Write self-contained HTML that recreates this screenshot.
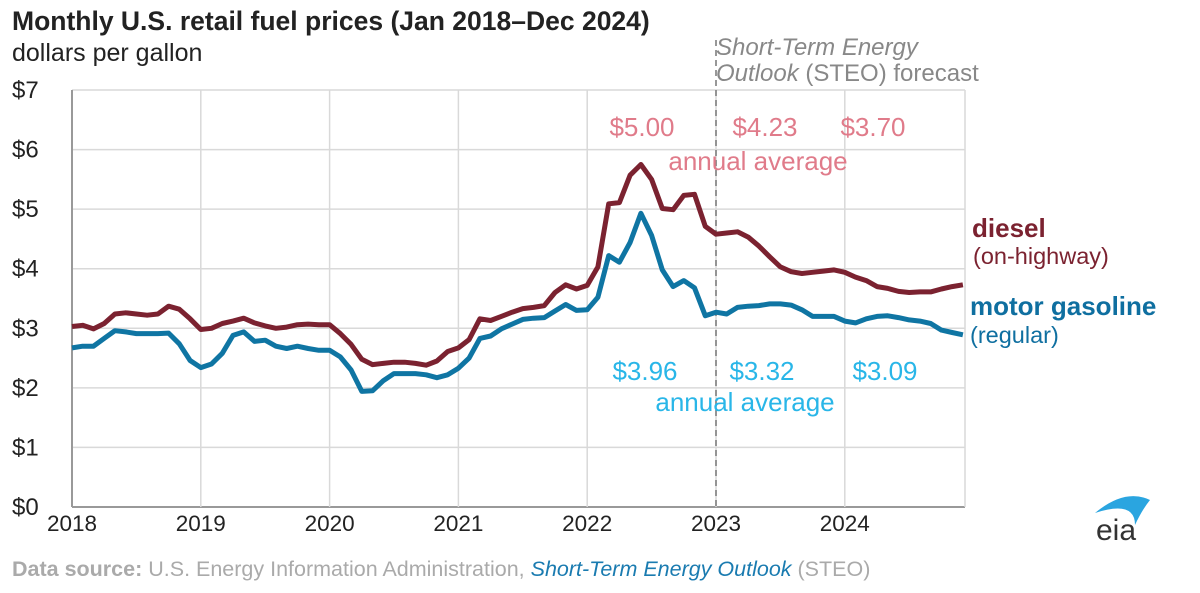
<!DOCTYPE html>
<html><head><meta charset="utf-8"><style>
html,body{margin:0;padding:0;background:#fff;}
svg{display:block;font-family:"Liberation Sans",Arial,sans-serif;}
</style></head><body>
<svg id="chart" width="1200" height="593" viewBox="0 0 1200 593">
<text x="12" y="30" font-size="26.5" font-weight="bold" fill="#222">Monthly U.S. retail fuel prices (Jan 2018–Dec 2024)</text>
<text x="12" y="61" font-size="25" fill="#222">dollars per gallon</text>
<g id="grid"></g>
<g id="axes"></g>
<line x1="716" y1="40" x2="716" y2="507" stroke="#777" stroke-width="1.5" stroke-dasharray="6,4"/>
<text x="716" y="55" font-size="24" font-style="italic" fill="#888">Short-Term Energy</text>
<text x="716" y="81" font-size="24" fill="#888"><tspan font-style="italic">Outlook</tspan> (STEO) forecast</text>
<g id="series"></g>
<g fill="#e07b8a" font-size="26">
<text x="642" y="136" text-anchor="middle">$5.00</text>
<text x="765" y="136" text-anchor="middle">$4.23</text>
<text x="873" y="136" text-anchor="middle">$3.70</text>
<text x="758" y="170" text-anchor="middle">annual average</text>
</g>
<g fill="#29b6e8" font-size="26">
<text x="645" y="380" text-anchor="middle">$3.96</text>
<text x="762" y="380" text-anchor="middle">$3.32</text>
<text x="885" y="380" text-anchor="middle">$3.09</text>
<text x="745" y="411" text-anchor="middle">annual average</text>
</g>
<text x="972" y="237" font-size="26" font-weight="bold" fill="#7b2230">diesel</text>
<text x="973" y="264" font-size="23.5" fill="#7b2230">(on-highway)</text>
<text x="970" y="315" font-size="26" font-weight="bold" fill="#0f6fa0">motor gasoline</text>
<text x="970" y="343" font-size="23.5" fill="#0f6fa0">(regular)</text>
<text x="12" y="576" font-size="21.5" fill="#aaa"><tspan font-weight="bold">Data source:</tspan> U.S. Energy Information Administration, <tspan font-style="italic" fill="#1a7bb0">Short-Term Energy Outlook</tspan> (STEO)</text>
<g>
<path d="M1095 513 Q1125 488 1150 500 Q1142 510 1135 525 Q1135 500 1095 513Z" fill="#2aa5e0"/>
<text x="1096" y="540" font-size="30" fill="#333">eia</text>
</g>
</svg>
<script>
const years = ["2018","2019","2020","2021","2022","2023","2024"];
const yTicks = [0,1,2,3,4,5,6,7];
const diesel = [3.03,3.05,2.99,3.08,3.24,3.26,3.24,3.22,3.24,3.37,3.32,3.16,
2.98,3.00,3.08,3.12,3.17,3.09,3.04,3.00,3.02,3.06,3.07,3.06,
3.06,2.91,2.73,2.48,2.39,2.41,2.43,2.43,2.41,2.38,2.45,2.61,
2.67,2.81,3.16,3.13,3.20,3.27,3.33,3.35,3.38,3.60,3.73,3.66,
3.72,4.03,5.09,5.11,5.57,5.75,5.50,5.01,4.99,5.23,5.25,4.71,
4.58,4.60,4.62,4.53,4.38,4.20,4.03,3.95,3.92,3.94,3.96,3.98,
3.94,3.86,3.80,3.70,3.67,3.62,3.60,3.61,3.61,3.66,3.70,3.73];
const gasoline = [2.67,2.70,2.70,2.83,2.96,2.94,2.91,2.91,2.91,2.92,2.74,2.46,
2.34,2.40,2.58,2.88,2.94,2.78,2.80,2.70,2.66,2.70,2.66,2.63,
2.63,2.52,2.30,1.94,1.95,2.12,2.24,2.24,2.24,2.22,2.17,2.22,
2.33,2.50,2.83,2.87,2.99,3.07,3.15,3.17,3.18,3.29,3.40,3.30,
3.31,3.52,4.22,4.11,4.44,4.93,4.56,3.98,3.70,3.80,3.68,3.21,
3.27,3.24,3.35,3.37,3.38,3.41,3.41,3.39,3.31,3.20,3.20,3.20,
3.12,3.09,3.16,3.20,3.21,3.18,3.14,3.12,3.08,2.97,2.93,2.89];

const NS="http://www.w3.org/2000/svg";
const X0=72, X1=965, Y0=507, Y1=90;
const monthW=128.8/12;
const xm=i=>X0+i*monthW;
const yv=v=>Y0-(v/7)*(Y0-Y1);
function mk(tag,attrs,parent){const e=document.createElementNS(NS,tag);for(const k in attrs)e.setAttribute(k,attrs[k]);parent.appendChild(e);return e;}
const grid=document.getElementById('grid'), axes=document.getElementById('axes'), series=document.getElementById('series');
yTicks.forEach(t=>{
  const l=mk('line',{x1:X0,x2:X1,y1:yv(t),y2:yv(t),stroke:t===0?'#999':'#d9d9d9','stroke-width':t===0?2:1.5},grid);
  
  
  const tx=mk('text',{x:12,y:yv(t)+8,'font-size':24,fill:'#222'},axes);
  tx.textContent='$'+t;
  
  
});
years.forEach((yr,i)=>{
  const x=xm(i*12);
  const l=mk('line',{x1:x,x2:x,y1:Y1,y2:Y0,stroke:i===0?'#999':'#d9d9d9','stroke-width':i===0?2:1.5},grid);
  
  
  const tx=mk('text',{x:x,y:531,'font-size':22.5,fill:'#222','text-anchor':'middle'},axes);
  tx.textContent=yr;
  
  
});
const rb=mk('line',{x1:X1,x2:X1,y1:Y1,y2:Y0,stroke:'#d9d9d9','stroke-width':1.5},grid);


function line(vals,color,name){
  const d=vals.map((v,i)=>(i?'L':'M')+xm(i).toFixed(1)+' '+yv(v).toFixed(1)).join(' ');
  const p=mk('path',{d:d,fill:'none',stroke:color,'stroke-width':5,'stroke-linejoin':'round'},series);
  
  
}
line(diesel,'#7b2230','diesel-line');
line(gasoline,'#0f75a3','gasoline-line');
</script>
</body></html>
